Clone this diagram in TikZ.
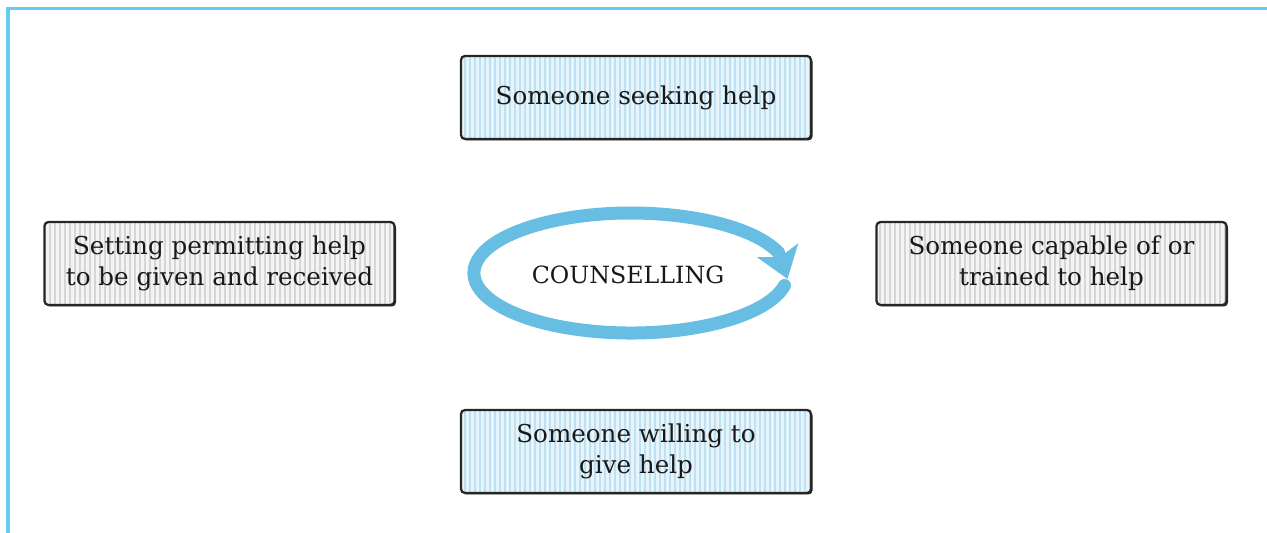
\documentclass[tikz,border=0pt]{standalone}
\usepackage{xcolor}
\usepackage{fontspec}
\setmainfont{DejaVu Serif}
\usepackage{tikz}
\usetikzlibrary{arrows.meta, patterns.meta, shadows}

\definecolor{framecyan}{HTML}{62CDF2}
\definecolor{loopblue}{HTML}{68BDE3}
\definecolor{paleblue}{HTML}{E6F4FB}
\definecolor{stripeblue}{HTML}{BFE0F0}
\definecolor{palegrey}{HTML}{F4F4F4}
\definecolor{stripegrey}{HTML}{D6D6D6}

\tikzset{
  helpbox/.style={draw=black!85, line width=0.045cm, rounded corners=0.08cm,
    minimum width=7cm, minimum height=1.66cm, align=center,
    font=\fontsize{14}{17.6}\selectfont, text=black!90,
    drop shadow={shadow xshift=0.03cm, shadow yshift=-0.03cm, fill=black!85, opacity=1}},
  bluebox/.style={helpbox, preaction={fill=paleblue},
    pattern={Lines[angle=90, distance=0.1cm, line width=0.04cm]}, pattern color=stripeblue},
  greybox/.style={helpbox, preaction={fill=palegrey},
    pattern={Lines[angle=90, distance=0.1cm, line width=0.04cm]}, pattern color=stripegrey}
}

\begin{document}
\begin{tikzpicture}
\useasboundingbox (0, 0) rectangle (25.34, 10.66);

% frame
\draw[framecyan, line width=0.07cm] (25.34, 10.49) -- (0.16, 10.49) -- (0.16, 0);

\node[bluebox] (seeker) at (12.72, 8.71) {Someone seeking help};
\node[greybox] (setting) at (4.39, 5.39) {Setting permitting help\\to be given and received};
\node[greybox] (capable) at (21.03, 5.39) {Someone capable of or\\trained to help};
\node[bluebox] (willing) at (12.72, 1.63) {Someone willing to\\give help};

% the loop
\coordinate (tail) at (15.69, 4.95);
\coordinate (tip) at (15.75, 5.08);
\draw[loopblue, line width=0.26cm, line cap=round,
  -{Stealth[length=0.6cm, width=0.85cm, inset=0.14cm]}]
  (tail) arc[start angle=-12, end angle=-340, x radius=3.14, y radius=1.2] -- (tip);
\node[font=\fontsize{13.5}{16}\selectfont, text=black!90] (counsel) at (12.56, 5.16) {COUNSELLING};
\end{tikzpicture}
\end{document}
